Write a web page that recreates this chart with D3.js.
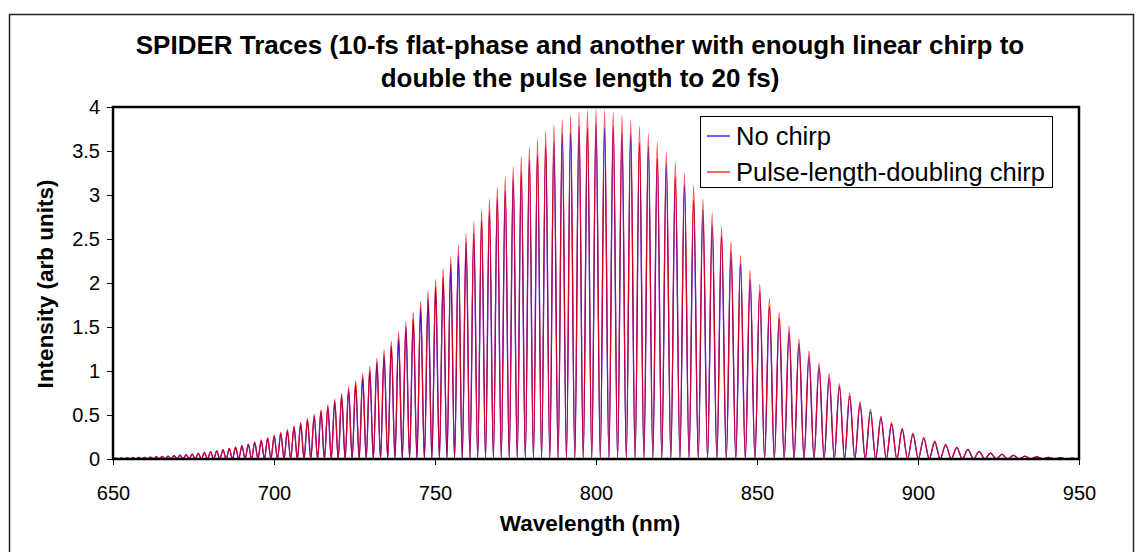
<!DOCTYPE html>
<html>
<head>
<meta charset="utf-8">
<script src="https://cdn.jsdelivr.net/npm/d3@7"></script>
<style>
  body { margin: 0; background: #fff; }
  svg { display: block; font-family: "Liberation Sans", Arial, sans-serif; }
</style>
</head>
<body>
<div id="chart"></div>
<script>
// Fringe peak wavelengths (nm)
const fringeNm = [650.89, 652.65, 654.43, 656.21, 658.00, 659.81, 661.62, 663.44, 665.27, 667.11,
  668.96, 670.83, 672.70, 674.58, 676.48, 678.38, 680.30, 682.22, 684.16, 686.11,
  688.07, 690.04, 692.02, 694.01, 696.02, 698.03, 700.06, 702.10, 704.15, 706.21,
  708.29, 710.38, 712.48, 714.59, 716.72, 718.86, 721.01, 723.17, 725.35, 727.54,
  729.74, 731.96, 734.19, 736.43, 738.69, 740.96, 743.24, 745.54, 747.86, 750.19,
  752.53, 754.89, 757.26, 759.65, 762.05, 764.47, 766.90, 769.35, 771.81, 774.29,
  776.79, 779.30, 781.83, 784.37, 786.93, 789.52, 792.11, 794.72, 797.35, 800.00,
  802.66, 805.35, 808.05, 810.77, 813.50, 816.26, 819.03, 821.83, 824.64, 827.47,
  830.32, 833.19, 836.08, 838.99, 841.93, 844.88, 847.86, 850.85, 853.86, 856.90,
  859.96, 863.03, 866.14, 869.26, 872.41, 875.58, 878.77, 881.99, 885.23, 888.49,
  891.78, 895.09, 898.43, 901.79, 905.18, 908.59, 912.04, 915.50, 918.99, 922.51,
  926.06, 929.63, 933.23, 936.86, 940.51, 944.20, 947.91];

// Fringe minima (nm), intensity ~0
const minimaNm = [650.00, 651.77, 653.54, 655.32, 657.11, 658.91, 660.72, 662.53, 664.36, 666.19,
  668.04, 669.90, 671.77, 673.64, 675.53, 677.43, 679.34, 681.26, 683.19, 685.14,
  687.09, 689.06, 691.03, 693.02, 695.02, 697.03, 699.05, 701.08, 703.13, 705.18,
  707.25, 709.34, 711.43, 713.54, 715.66, 717.79, 719.94, 722.09, 724.26, 726.45,
  728.64, 730.85, 733.08, 735.31, 737.56, 739.83, 742.10, 744.39, 746.70, 749.03,
  751.36, 753.71, 756.08, 758.46, 760.85, 763.26, 765.69, 768.13, 770.58, 773.05,
  775.54, 778.05, 780.57, 783.10, 785.65, 788.23, 790.82, 793.42, 796.04, 798.68,
  801.33, 804.01, 806.70, 809.41, 812.14, 814.88, 817.65, 820.43, 823.24, 826.06,
  828.90, 831.76, 834.64, 837.54, 840.46, 843.41, 846.37, 849.36, 852.36, 855.38,
  858.43, 861.50, 864.59, 867.70, 870.84, 874.00, 877.18, 880.38, 883.61, 886.86,
  890.14, 893.44, 896.76, 900.11, 903.49, 906.89, 910.32, 913.77, 917.25, 920.75,
  924.29, 927.85, 931.43, 935.05, 938.69, 942.36, 946.06, 949.77];

// Peak intensities, no chirp (blue)
const noChirpPeak = [0.010, 0.011, 0.013, 0.014, 0.017, 0.019, 0.022, 0.025, 0.028, 0.033,
  0.037, 0.043, 0.049, 0.055, 0.063, 0.071, 0.081, 0.090, 0.103, 0.117,
  0.130, 0.148, 0.164, 0.186, 0.206, 0.233, 0.257, 0.290, 0.319, 0.358,
  0.393, 0.440, 0.482, 0.537, 0.584, 0.650, 0.705, 0.780, 0.844, 0.929,
  1.000, 1.098, 1.178, 1.286, 1.374, 1.494, 1.587, 1.717, 1.816, 1.956,
  2.058, 2.205, 2.309, 2.460, 2.561, 2.715, 2.810, 2.961, 3.047, 3.191,
  3.263, 3.396, 3.451, 3.569, 3.602, 3.700, 3.709, 3.782, 3.764, 3.811,
  3.764, 3.782, 3.706, 3.694, 3.591, 3.550, 3.422, 3.353, 3.203, 3.111,
  2.946, 2.834, 2.658, 2.532, 2.351, 2.218, 2.038, 1.902, 1.730, 1.596,
  1.435, 1.310, 1.164, 1.050, 0.922, 0.821, 0.712, 0.626, 0.536, 0.465,
  0.392, 0.335, 0.279, 0.235, 0.193, 0.160, 0.129, 0.106, 0.084, 0.067,
  0.052, 0.041, 0.032, 0.025, 0.019, 0.014, 0.010];

// Peak intensities, pulse-length-doubling chirp (red)
const chirpPeak = [0.010, 0.012, 0.013, 0.015, 0.018, 0.020, 0.023, 0.026, 0.030, 0.034,
  0.039, 0.045, 0.051, 0.058, 0.066, 0.075, 0.084, 0.095, 0.108, 0.122,
  0.137, 0.154, 0.173, 0.194, 0.217, 0.243, 0.271, 0.302, 0.336, 0.373,
  0.414, 0.458, 0.507, 0.559, 0.615, 0.677, 0.742, 0.813, 0.888, 0.968,
  1.053, 1.144, 1.240, 1.340, 1.446, 1.556, 1.670, 1.789, 1.912, 2.038,
  2.166, 2.297, 2.430, 2.563, 2.696, 2.828, 2.958, 3.084, 3.207, 3.324,
  3.435, 3.538, 3.633, 3.718, 3.792, 3.854, 3.904, 3.940, 3.962, 3.970,
  3.962, 3.940, 3.901, 3.848, 3.780, 3.698, 3.602, 3.493, 3.372, 3.241,
  3.101, 2.952, 2.798, 2.638, 2.475, 2.310, 2.145, 1.981, 1.821, 1.663,
  1.511, 1.365, 1.225, 1.094, 0.970, 0.855, 0.749, 0.652, 0.564, 0.484,
  0.413, 0.349, 0.294, 0.245, 0.203, 0.167, 0.136, 0.110, 0.088, 0.070,
  0.055, 0.043, 0.034, 0.026, 0.020, 0.015, 0.011];

const xTicks = [650, 700, 750, 800, 850, 900, 950];
const yTicks = [0, 0.5, 1, 1.5, 2, 2.5, 3, 3.5, 4];
const seriesNames = ["No chirp", "Pulse-length-doubling chirp"];
const seriesColors = ["#0000ff", "#ff0000"];

const width = 1141, height = 552;
const plot = { left: 113, right: 1079, top: 107, bottom: 459 };

const svg = d3.select("#chart").append("svg")
  .attr("width", width)
  .attr("height", height);

// chart area frame
svg.append("rect")
  .attr("x", 9.5).attr("y", 14.5)
  .attr("width", 1124).attr("height", 600)
  .attr("fill", "#fff")
  .attr("stroke", "#222")
  .attr("stroke-width", 1.5);

const x = d3.scaleLinear().domain([650, 950]).range([plot.left, plot.right]);
const y = d3.scaleLinear().domain([0, 4]).range([plot.bottom, plot.top]);

// build trough-peak-trough sequence for one trace
function tracePoints(peaks) {
  const pts = [];
  fringeNm.forEach((nm, i) => {
    pts.push([minimaNm[i], 0]);
    pts.push([nm, peaks[i]]);
  });
  pts.push([minimaNm[minimaNm.length - 1], 0]);
  pts.push([950, 0]);
  return pts;
}

const line = d3.line()
  .x(d => x(d[0]))
  .y(d => y(d[1]))
  .curve(d3.curveMonotoneX);

const traces = svg.append("g");
traces.append("path")
  .attr("d", line(tracePoints(noChirpPeak)))
  .attr("fill", "none")
  .attr("stroke", seriesColors[0])
  .attr("stroke-width", 1.3);
traces.append("path")
  .attr("d", line(tracePoints(chirpPeak)))
  .attr("fill", "none")
  .attr("stroke", seriesColors[1])
  .attr("stroke-opacity", 0.85)
  .attr("stroke-width", 1.2);

// axes
const yAxis = svg.append("g")
  .attr("transform", `translate(${plot.left},0)`)
  .call(d3.axisLeft(y).tickValues(yTicks).tickFormat(d => String(d)).tickSize(6).tickPadding(7));
const xAxis = svg.append("g")
  .attr("transform", `translate(0,${plot.bottom})`)
  .call(d3.axisBottom(x).tickValues(xTicks).tickSize(6).tickPadding(21));

[yAxis, xAxis].forEach(g => {
  g.select(".domain").remove();
  g.selectAll("line").attr("stroke", "#000");
  g.selectAll("text")
    .attr("fill", "#000")
    .style("font-size", "20px")
    .style("font-family", "'Liberation Sans', Arial, sans-serif");
});

// plot area border
svg.append("rect")
  .attr("x", plot.left).attr("y", plot.top)
  .attr("width", plot.right - plot.left)
  .attr("height", plot.bottom - plot.top)
  .attr("fill", "none")
  .attr("stroke", "#000")
  .attr("stroke-width", 2.5);

// titles
const title = svg.append("text")
  .attr("text-anchor", "middle")
  .style("font-size", "26px")
  .style("font-weight", "bold");
title.append("tspan").attr("x", 580).attr("y", 54)
  .text("SPIDER Traces (10-fs flat-phase and another with enough linear chirp to");
title.append("tspan").attr("x", 580).attr("y", 87)
  .text("double the pulse length to 20 fs)");

svg.append("text")
  .attr("x", 590).attr("y", 531)
  .attr("text-anchor", "middle")
  .style("font-size", "22.5px")
  .style("font-weight", "bold")
  .text("Wavelength (nm)");

svg.append("text")
  .attr("transform", "translate(53,284) rotate(-90)")
  .attr("text-anchor", "middle")
  .style("font-size", "22.5px")
  .style("font-weight", "bold")
  .text("Intensity (arb units)");

// legend
const legend = svg.append("g");
legend.append("rect")
  .attr("x", 700.5).attr("y", 116.5)
  .attr("width", 352).attr("height", 71)
  .attr("fill", "#fff")
  .attr("stroke", "#000")
  .attr("stroke-width", 1);

seriesNames.forEach((name, i) => {
  const yy = 136 + i * 36;
  legend.append("line")
    .attr("x1", 707).attr("x2", 730)
    .attr("y1", yy).attr("y2", yy)
    .attr("stroke", seriesColors[i])
    .attr("stroke-width", 1.2);
  legend.append("text")
    .attr("x", 736).attr("y", yy + 9)
    .style("font-size", "25.5px")
    .text(name);
});
</script>
</body>
</html>
